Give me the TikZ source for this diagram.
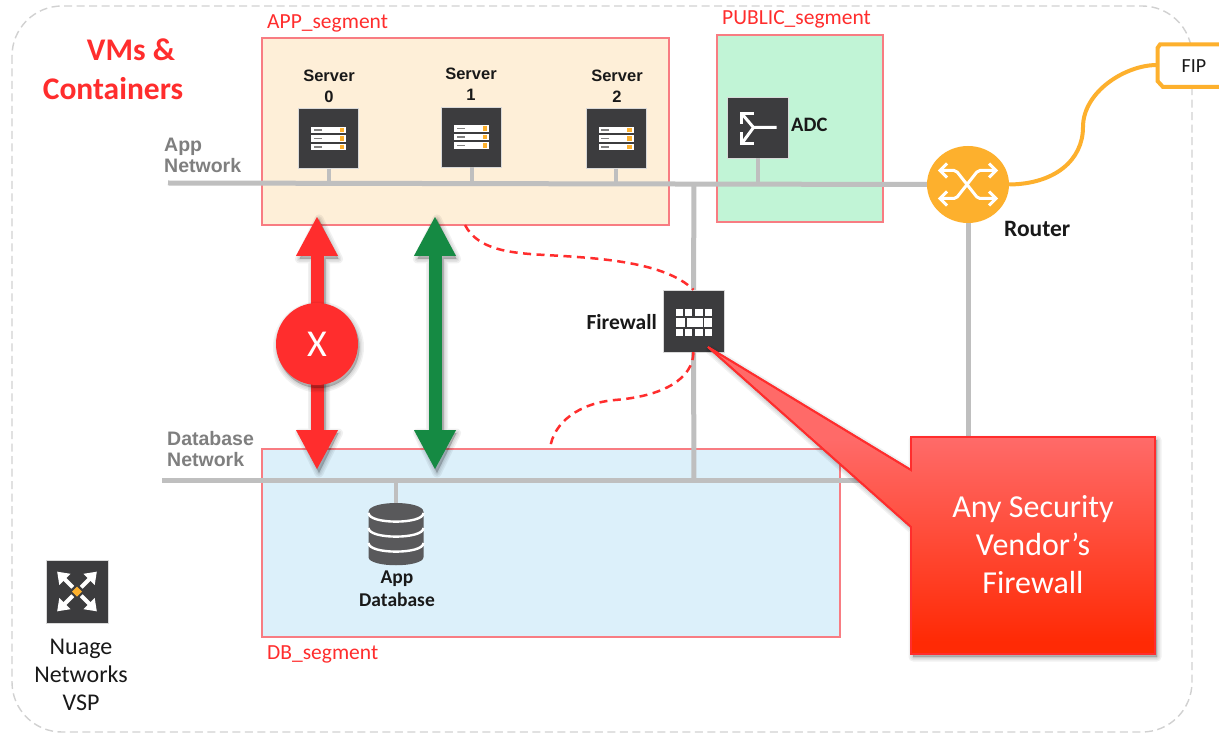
\documentclass[tikz,border=0pt]{standalone}
\usepackage{fontspec}
\setmainfont{Carlito}
\newfontfamily\arialf{Liberation Sans}
\usetikzlibrary{arrows.meta,calc,shapes.geometric}
\definecolor{segred}{HTML}{F87C82}
\definecolor{redtxt}{HTML}{FF2D2D}
\definecolor{netgray}{HTML}{BFBFBF}
\definecolor{icondark}{HTML}{3C3C3E}
\definecolor{orng}{HTML}{FDB02D}
\definecolor{grn}{HTML}{158A43}
\definecolor{appfill}{HTML}{FEEFD8}
\definecolor{pubfill}{HTML}{C1F4D6}
\definecolor{dbfill}{HTML}{DCF0FA}
\definecolor{ctop}{HTML}{FF6A68}
\definecolor{cbot}{HTML}{FF2A05}
\definecolor{netlbl}{HTML}{7F7F7F}
\pgfdeclareverticalshading{callsh}{100bp}{color(0bp)=(cbot); color(27bp)=(cbot); color(60bp)=(ctop); color(100bp)=(ctop)}
\tikzset{
  segbox/.style={draw=segred,line width=1.5pt,anchor=north west,inner sep=0pt,outer sep=0pt},
  seglabel/.style={text=redtxt,font=\fontsize{21.5}{24}\selectfont,anchor=west,inner sep=0pt},
  net/.style={draw=netgray,line width=5pt},
  stem/.style={draw=netgray,line width=4pt},
  icon/.style={fill=icondark,draw=netgray!60,line width=.4pt,minimum width=60pt,minimum height=60pt,inner sep=0pt},
  blabel/.style={font=\arialf\bfseries\fontsize{16.5}{21}\selectfont,text=black!90,align=center,inner sep=0pt},
  netlabel/.style={font=\arialf\bfseries\fontsize{19.5}{21}\selectfont,text=netlbl,align=left,anchor=west,inner sep=0pt},
  bigarrow/.style={line width=13pt,{Triangle[length=40pt,width=39pt]}-{Triangle[length=40pt,width=39pt]}},
  reddash/.style={draw=redtxt,line width=2.5pt,dash pattern=on 8pt off 5.5pt},
  plain/.style={text=black!90,font=\fontsize{24}{28}\selectfont,align=center,inner sep=0pt},
}
\newcommand{\srvicon}[1]{%
  \foreach \k in {-8.5,0,8.5}{
    \fill[white] ($(#1)+(-17.5,\k-3.3)$) rectangle ($(#1)+(17.5,\k+3.3)$);
    \fill[orng] ($(#1)+(11,\k-2.2)$) rectangle ($(#1)+(15.5,\k+2.2)$);
    \fill[gray] ($(#1)+(-15,\k-.8)$) rectangle ($(#1)+(-7,\k+.8)$);
  }}
\newcommand{\softsh}[1]{\foreach \w in {9,6,3,0.5}{\filldraw[black,opacity=.055,line width=\w pt,line join=round] #1;}}
\begin{document}
\begin{tikzpicture}[x=1pt,y=-1pt]
\useasboundingbox (0,0) rectangle (1219,735);
\fill[white] (0,0) rectangle (1219,735);
% outer boundary
\draw[draw=black!18,line width=1.4pt,dash pattern=on 8pt off 4.5pt,rounded corners=50pt] (12,6) rectangle (1192,732);
% segments
\node[segbox,fill=appfill,minimum width=407pt,minimum height=187pt] (app) at (262,38) {};
\node[segbox,fill=pubfill,minimum width=166pt,minimum height=187pt] (pub) at (717,35) {};
\node[segbox,fill=dbfill,minimum width=578pt,minimum height=188pt] (db) at (262,449) {};
\node[seglabel] (applbl) at (267,23) {APP\_segment};
\node[seglabel] (publbl) at (722,19) {PUBLIC\_segment};
\node[seglabel] (dblbl) at (267,654) {DB\_segment};
% title
\node[text=redtxt,font=\bfseries\fontsize{31.5}{39}\selectfont,align=center,inner sep=0pt] (title) at (113,69) {\hspace*{36pt}VMs \&\\Containers};
% named points
\coordinate (appL) at (168,183);
\coordinate (dbL) at (162,480);
\coordinate (dbR) at (911,480);
\coordinate (appJ) at (694,183);
\coordinate (dbJ) at (694,480);
% icons nodes
\node[icon] (s0) at (328.5,138.5) {};
\node[icon] (s1) at (471.5,137) {};
\node[icon] (s2) at (616,138.5) {};
\node[icon,minimum width=61pt,minimum height=61pt] (adc) at (757.5,127.5) {};
\node[icon,minimum width=61pt,minimum height=62pt] (fw) at (693.5,321) {};
\node[icon,minimum width=62pt,minimum height=63pt] (nuage) at (77,591.5) {};
\node[ellipse,fill=orng,minimum width=82pt,minimum height=77pt,inner sep=0pt] (router) at (968,184.5) {};
\coordinate (dbtop) at (396,503);
% networks
\draw[net] (appL) -- (router.west);
\draw[net] (dbL) -- (dbR);
\draw[net] (appJ) -- (fw.north);
\draw[net] (fw.south) -- (dbJ);
\draw[stem] (s0.south) -- (s0.south |- appL);
\draw[stem] (s1.south) -- (s1.south |- appL);
\draw[stem] (s2.south) -- (s2.south |- appL);
\draw[stem] (adc.south) -- (adc.south |- appL);
\draw[stem] (dbtop) -- (dbtop |- dbL);
\coordinate (rtdown) at (968,437);
\draw[net] (router.south) -- (rtdown);
% server icons
\srvicon{s0}\srvicon{s1}\srvicon{s2}
% labels
\node[blabel] (s0l) at (329,86) {Server\\0};
\node[blabel] (s1l) at (471,84) {Server\\1};
\node[blabel] (s2l) at (617,86) {Server\\2};
\node[netlabel] (appnet) at (164,155.5) {App\\Network};
\node[netlabel] (dbnet) at (167,449) {Database\\Network};
\node[font=\bfseries\fontsize{20.5}{22}\selectfont,text=black!90,anchor=west,inner sep=0pt] (adcl) at (791,125) {ADC};
\node[font=\bfseries\fontsize{23.5}{25}\selectfont,text=black!90,anchor=west,inner sep=0pt] (rtl) at (1004,229) {Router};
\node[font=\bfseries\fontsize{21.5}{23}\selectfont,text=black!90,anchor=east,inner sep=0pt] (fwl) at (657,322) {Firewall};
\node[font=\bfseries\fontsize{19.5}{23}\selectfont,text=black!90,align=center,inner sep=0pt] (dbl) at (397,589) {App\\Database};
% ADC glyph
\begin{scope}[shift={(adc.center)}]
\draw[white,line width=3pt] (19,0) -- (-4,0) -- (-15,-13) (-4,0) -- (-15,15);
\draw[white,line width=3pt] (-4,-14) -- (-16,-14) -- (-16,-3);
\draw[white,line width=3pt] (-4,16) -- (-16,16) -- (-16,5);
\end{scope}
% firewall glyph
\begin{scope}[shift={(fw.center)}]
\foreach \xa/\xb in {-18/-11,-8.5/-1.5,1/9,11.5/18.5}{\fill[white] (\xa,-12) rectangle (\xb,-5);\fill[white] (\xa,8) rectangle (\xb,15);}
\foreach \xa/\xb in {-18/-8.5,-6.5/9,10.5/18.5}{\fill[white] (\xa,-3) rectangle (\xb,6);}
\end{scope}
% router glyph
\begin{scope}[shift={(router.center)}]
\draw[white,line width=3pt,rounded corners=2pt] (-28,-14) -- (-12,-14) -- (10,14) -- (28,14);
\draw[white,line width=3pt,rounded corners=2pt] (-28,14) -- (-12,14) -- (10,-14) -- (28,-14);
\foreach \s in {-1,1}{
 \draw[white,line width=3pt] (-21,\s*14-7) -- (-28,\s*14) -- (-21,\s*14+7);
 \draw[white,line width=3pt] (21,\s*14-7) -- (28,\s*14) -- (21,\s*14+7);
}
\end{scope}
% nuage glyph
\begin{scope}[shift={(nuage.center)}]
\foreach \a in {45,135,225,315}{
 \begin{scope}[rotate=\a]
 \draw[white,line width=4pt] (6,0) -- (22,0);
 \fill[white] (28,0) -- (17,-8) -- (17,8) -- cycle;
 \end{scope}}
\fill[orng] (0,-5) -- (5,0) -- (0,5) -- (-5,0) -- cycle;
\end{scope}
\node[plain] (nuagel) at (81,675) {Nuage\\Networks\\VSP};
% database cylinder
\begin{scope}[shift={(396,0)}]
\fill[icondark!85!white] (-27.5,512) .. controls (-27.5,500) and (27.5,500) .. (27.5,512) -- (27.5,557) .. controls (27.5,568) and (-27.5,568) .. (-27.5,557) -- cycle;
\foreach \yy in {513,528,543}{
 \draw[white,line width=2.4pt] (-27.5,\yy) .. controls (-27.5,\yy+11.5) and (27.5,\yy+11.5) .. (27.5,\yy);
}
\end{scope}
% FIP
\coordinate (fipp) at (1157,65);
\draw[orng,line width=4pt,fill=white] (1225,44.5) -- (1160,44.5) -- (1157.5,48) -- (1157.5,81) -- (1163,87) -- (1225,87);
\node[font=\fontsize{20}{22}\selectfont,text=black!90,inner sep=0pt] (fip) at (1194,66) {FIP};
\draw[orng,line width=4pt] (router.east) .. controls (1055,184) and (1083,160) .. (1083,127) .. controls (1083,92) and (1125,65) .. (fipp);
% dashed
\coordinate (d1) at (465,225);
\coordinate (d2) at (550,449);
\draw[reddash] (d1) .. controls (478,250) and (510,253) .. (545,255) .. controls (600,258) and (665,262) .. (fw.north);
\draw[reddash] (fw.south) .. controls (693,378) and (665,396) .. (615,400) .. controls (580,403) and (553,422) .. (d2);
% big arrows
\coordinate (ra) at (317,216);
\coordinate (rb) at (317,470);
\coordinate (ga) at (435,216);
\coordinate (gb) at (435,470);
\foreach \xx in {317,435}{
\softsh{(\xx+2,219) -- (\xx+21.5,259) -- (\xx+8.5,259) -- (\xx+8.5,433) -- (\xx+21.5,433) -- (\xx+2,473) -- (\xx-17.5,433) -- (\xx-4.5,433) -- (\xx-4.5,259) -- (\xx-17.5,259) -- cycle}
}
\draw[bigarrow,draw=redtxt,fill=redtxt] (ra) -- (rb);
\draw[bigarrow,draw=grn,fill=grn] (ga) -- (gb);
\softsh{(318.5,347) circle[radius=41pt]}
\node[circle,fill=redtxt,minimum size=82pt,inner sep=0pt,text=white,font=\fontsize{38}{40}\selectfont] (xn) at (317,344) {X};
% callout
\coordinate (tip) at (708,347);
\softsh{(913,440) -- (1157,440) -- (1157,657) -- (913,657) -- (913,530) -- (710,350) -- (913,473) -- cycle}
\filldraw[shading=callsh,draw=redtxt,line width=1.8pt] (911,437) -- (1155,437) -- (1155,654) -- (911,654) -- (911,527) -- (tip) -- (911,470) -- cycle;
\draw[draw=redtxt,line width=1.8pt] (911,437) -- (1155,437) -- (1155,654) -- (911,654) -- (911,527) -- (tip) -- (911,470) -- cycle;
\node[text=white,font=\fontsize{32}{38}\selectfont,align=center,inner sep=0pt] (calltxt) at (1033,544.5) {Any Security\\Vendor’s\\Firewall};
\end{tikzpicture}
\end{document}
